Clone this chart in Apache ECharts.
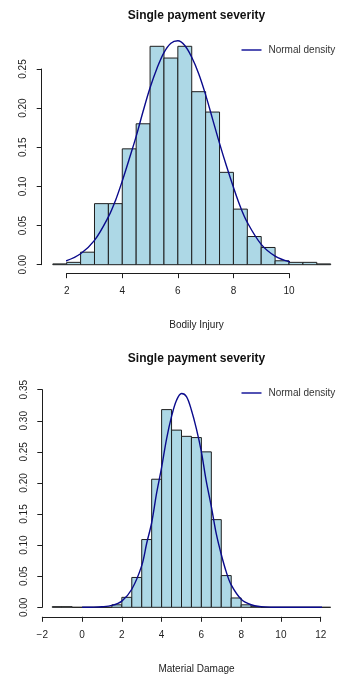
<!DOCTYPE html>
<html>
<head>
<meta charset="utf-8">
<script src="https://cdn.jsdelivr.net/npm/echarts@6/dist/echarts.min.js"></script>
<style>
  html, body { margin: 0; padding: 0; background: #ffffff; }
  #chart { width: 338px; height: 676px; }
</style>
</head>
<body>
<div id="chart"></div>
<script>
// Histogram bins: left edge of each bin, all bins 0.5 wide, heights as densities
const binWidth = 0.5;

const injuryBinStarts = [1.5, 2, 2.5, 3, 3.5, 4, 4.5, 5, 5.5, 6, 6.5, 7, 7.5, 8, 8.5, 9, 9.5, 10, 10.5, 11];
const injuryDensity   = [0.001, 0.003, 0.016, 0.078, 0.078, 0.148, 0.180, 0.279, 0.264, 0.279,
                         0.221, 0.195, 0.118, 0.071, 0.036, 0.022, 0.005, 0.003, 0.003, 0.001];

const damageBinStarts = [-1.5, -1, -0.5, 0, 0.5, 1, 1.5, 2, 2.5, 3, 3.5, 4, 4.5, 5, 5.5, 6, 6.5, 7,
                         7.5, 8, 8.5, 9, 9.5, 10, 10.5, 11, 11.5, 12];
const damageDensity   = [0.001, 0.001, 0, 0, 0, 0, 0.004, 0.016, 0.048, 0.109, 0.206, 0.318, 0.285, 0.275,
                         0.273, 0.250, 0.141, 0.051, 0.015, 0.004, 0.001, 0, 0, 0, 0, 0, 0, 0];

// Fitted normal density curves
const injuryCurveX = [1.1, 1.5, 2, 2.5, 3, 3.5, 3.75, 4, 4.25, 4.5, 4.75, 5, 5.25, 5.5, 5.75, 6, 6.25,
                      6.5, 6.75, 7, 7.25, 7.5, 7.75, 8, 8.25, 8.5, 9, 9.5, 10, 10.5, 11, 11.5, 11.9];
const injuryCurveY = [0.0007, 0.0016, 0.0053, 0.014, 0.031, 0.061, 0.0815, 0.107, 0.135, 0.164, 0.196,
                      0.226, 0.251, 0.271, 0.283, 0.286, 0.280, 0.265, 0.244, 0.217, 0.186, 0.155,
                      0.126, 0.099, 0.074, 0.054, 0.026, 0.011, 0.004, 0.0013, 0.0004, 0.0001, 0.00003];

const damageCurveX = [0, 0.5, 1, 1.5, 2, 2.5, 3, 3.25, 3.5, 3.75, 4, 4.25, 4.5, 4.75, 5, 5.25, 5.5,
                      5.75, 6, 6.25, 6.5, 6.75, 7, 7.25, 7.5, 8, 8.5, 9, 9.5, 10, 10.5, 11, 11.5, 12, 12.5, 13];
const damageCurveY = [0.00003, 0.00016, 0.0008, 0.003, 0.010, 0.029, 0.067, 0.103, 0.136, 0.184, 0.225,
                      0.271, 0.307, 0.333, 0.344, 0.339, 0.317, 0.287, 0.250, 0.202, 0.162, 0.118,
                      0.085, 0.057, 0.036, 0.013, 0.0041, 0.0011, 0.0002, 0.00005, 0, 0, 0, 0, 0, 0];

// Axis ticks
const injuryXTicks = [2, 4, 6, 8, 10];
const injuryYTicks = [0, 0.05, 0.10, 0.15, 0.20, 0.25];
const damageXTicks = [-2, 0, 2, 4, 6, 8, 10, 12];
const damageYTicks = [0, 0.05, 0.10, 0.15, 0.20, 0.25, 0.30, 0.35];

const titleText = 'Single payment severity';
const xTitles = ['Bodily Injury', 'Material Damage'];
const legendName = 'Normal density';

const FONT = '"Liberation Sans", Arial, Helvetica, sans-serif';
const INK = '#1e1e1e';
const BAR_FILL = '#ADD8E6';
const CURVE = '#0a0a8c';

function bins(starts, heights) {
  return starts.map((s, i) => [s, s + binWidth, heights[i]]);
}
function curve(xs, ys) {
  return xs.map((x, i) => [x, ys[i]]);
}
function renderBin(params, api) {
  const top = api.coord([api.value(0), api.value(2)]);
  const base = api.coord([api.value(1), 0]);
  return {
    type: 'rect',
    shape: { x: top[0], y: top[1], width: base[0] - top[0], height: base[1] - top[1] },
    style: { fill: BAR_FILL, stroke: INK, lineWidth: 1 }
  };
}
const minus = v => String(v).replace('-', '\u2212');

function xAxisFor(gridIndex, ticks, offset, margin) {
  return {
    gridIndex, type: 'value', position: 'bottom',
    min: ticks[0], max: ticks[ticks.length - 1], interval: ticks[1] - ticks[0],
    offset,
    axisLine: { show: true, onZero: false, lineStyle: { color: INK, width: 1 } },
    axisTick: { show: true, length: 5, lineStyle: { color: INK, width: 1 } },
    axisLabel: { show: true, margin, color: INK, fontSize: 10, fontFamily: FONT,
                 showMinLabel: true, showMaxLabel: true, formatter: minus },
    splitLine: { show: false }
  };
}
function yAxisFor(gridIndex, ticks, offset) {
  return {
    gridIndex, type: 'value', position: 'left',
    min: ticks[0], max: ticks[ticks.length - 1], interval: ticks[1] - ticks[0],
    offset,
    axisLine: { show: true, onZero: false, lineStyle: { color: INK, width: 1 } },
    axisTick: { show: true, length: 5, lineStyle: { color: INK, width: 1 } },
    axisLabel: { show: true, rotate: 90, margin: 13, color: INK, fontSize: 10, fontFamily: FONT,
                 showMinLabel: true, showMaxLabel: true, formatter: v => v.toFixed(2) },
    splitLine: { show: false }
  };
}
function legendFor(top) {
  return {
    data: [legendName], left: 236.5, top,
    icon: 'rect', itemWidth: 20, itemHeight: 2,
    itemStyle: { color: '#5252b4' },
    selectedMode: false,
    textStyle: { color: '#333', fontSize: 10, fontFamily: FONT, padding: [0, 0, 0, 2] }
  };
}

const chart = echarts.init(document.getElementById('chart'), null, { renderer: 'canvas' });
chart.setOption({
  animation: false,
  backgroundColor: '#ffffff',
  title: [
    { text: titleText, left: 191.5, top: 5, textAlign: 'center',
      textStyle: { fontSize: 12, fontWeight: 'bold', color: '#111', fontFamily: FONT } },
    { text: xTitles[0], left: 191.5, top: 315, textAlign: 'center',
      textStyle: { fontSize: 10, fontWeight: 'normal', color: '#222', fontFamily: FONT } },
    { text: titleText, left: 191.5, top: 348, textAlign: 'center',
      textStyle: { fontSize: 12, fontWeight: 'bold', color: '#111', fontFamily: FONT } },
    { text: xTitles[1], left: 191.5, top: 659, textAlign: 'center',
      textStyle: { fontSize: 10, fontWeight: 'normal', color: '#222', fontFamily: FONT } }
  ],
  legend: [legendFor(40), legendFor(383)],
  grid: [
    { left: 66.7, right: 49, top: 69, bottom: 411.3, containLabel: false, outerBoundsMode: 'none' },
    { left: 42.3, right: 17.3, top: 389.7, bottom: 68.7, containLabel: false, outerBoundsMode: 'none' }
  ],
  xAxis: [xAxisFor(0, injuryXTicks, 8.5, 13), xAxisFor(1, damageXTicks, 9.5, 13.5)],
  yAxis: [yAxisFor(0, injuryYTicks, 25), yAxisFor(1, damageYTicks, 0)],
  series: [
    { type: 'custom', xAxisIndex: 0, yAxisIndex: 0, renderItem: renderBin, clip: false,
      encode: { x: [0, 1], y: 2 }, data: bins(injuryBinStarts, injuryDensity), silent: true, z: 2 },
    { type: 'line', name: legendName, xAxisIndex: 0, yAxisIndex: 0, clip: false, smooth: 0.35,
      showSymbol: false, symbol: 'none', lineStyle: { color: CURVE, width: 1.4 }, itemStyle: { color: CURVE },
      data: curve(injuryCurveX, injuryCurveY), silent: true, z: 3 },
    { type: 'custom', xAxisIndex: 1, yAxisIndex: 1, renderItem: renderBin, clip: false,
      encode: { x: [0, 1], y: 2 }, data: bins(damageBinStarts, damageDensity), silent: true, z: 2 },
    { type: 'line', name: legendName, xAxisIndex: 1, yAxisIndex: 1, clip: false, smooth: 0.35,
      showSymbol: false, symbol: 'none', lineStyle: { color: CURVE, width: 1.4 }, itemStyle: { color: CURVE },
      data: curve(damageCurveX, damageCurveY), silent: true, z: 3 }
  ]
});
</script>
</body>
</html>
